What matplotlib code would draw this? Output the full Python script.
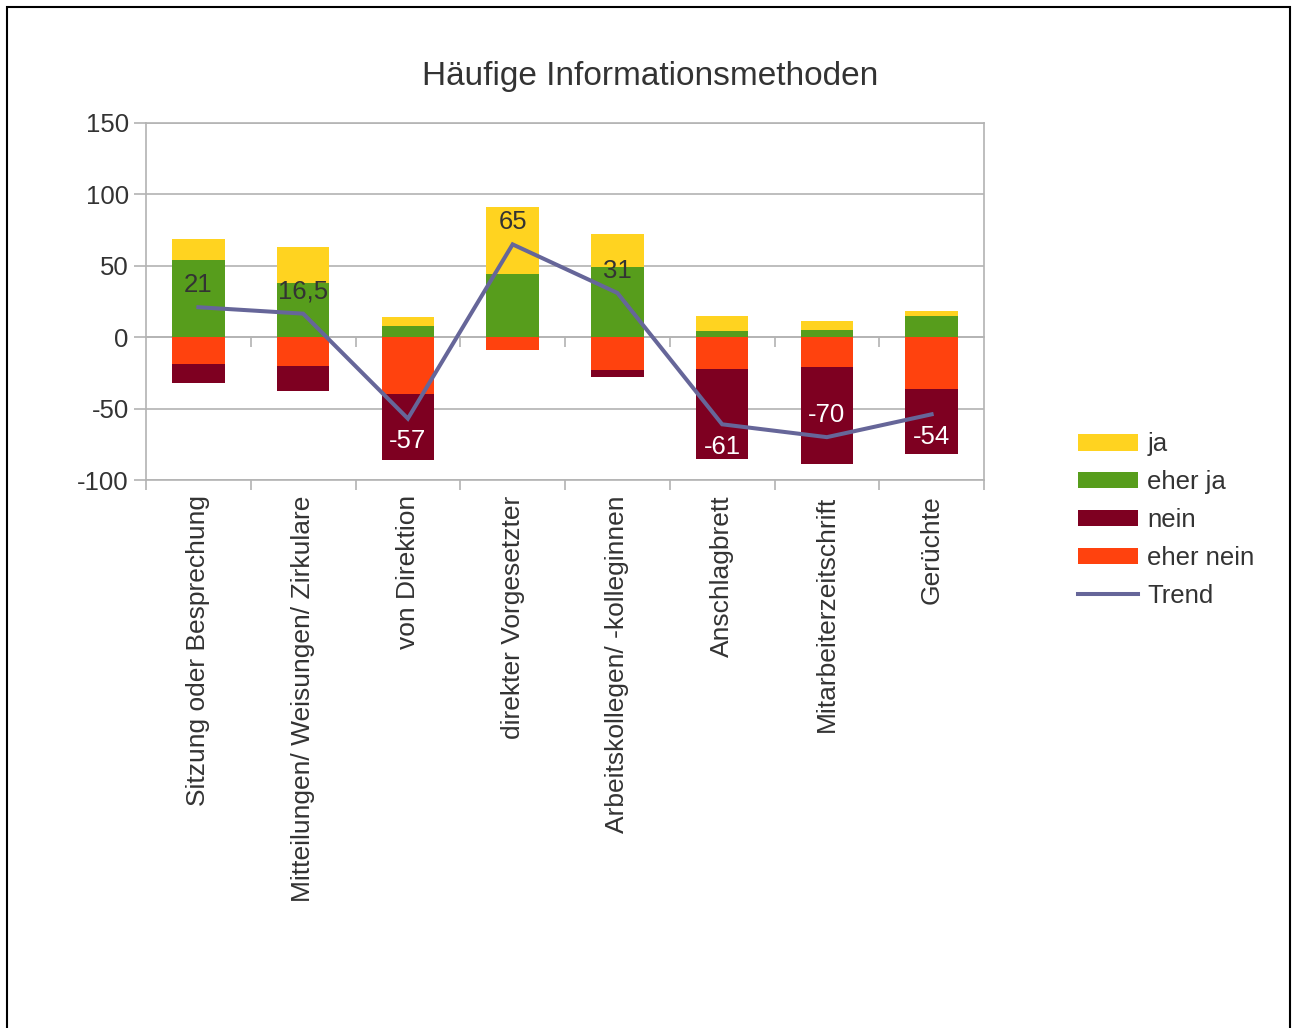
import numpy as np
import matplotlib
matplotlib.use('Agg')
import matplotlib.pyplot as plt
import matplotlib.transforms as mtrans
from matplotlib.patches import Rectangle

plt.rcParams['font.family'] = ['Liberation Sans', 'DejaVu Sans']
plt.rcParams['axes.unicode_minus'] = False

## DATA
#####################################################################
categories = ['Sitzung oder Besprechung',
              'Mitteilungen/ Weisungen/ Zirkulare',
              'von Direktion',
              'direkter Vorgesetzter',
              'Arbeitskollegen/ -kolleginnen',
              'Anschlagbrett',
              'Mitarbeiterzeitschrift',
              'Gerüchte']

ja = [15, 25, 6, 47, 23, 11, 6, 3.5]
eher_ja = [54, 38, 8, 44, 49, 4, 5, 14.5]
nein = [-13, -17.5, -46, 0, -5, -63, -68, -46]
eher_nein = [-19, -20, -40, -9, -23, -22, -21, -36]
trend = [21, 16.5, -57, 65, 31, -61, -70, -54]
trend_text = ['21', '16,5', '-57', '65', '31', '-61', '-70', '-54']
# label above (+1) or below (-1) the trend point
label_side = [1, 1, -1, 1, 1, -1, 1, -1]

## STYLE
#####################################################################
c_ja = '#ffd320'
c_eja = '#579d1c'
c_nein = '#7e0021'
c_enein = '#ff420e'
c_trend = '#666699'
c_text = '#333333'
c_grid = '#b3b3b3'
FS = 18.5

fig = plt.figure(figsize=(12.92,10.28),dpi=100)
ax = fig.add_axes([146/1292,1-480/1028,(984-146)/1292,(480-123)/1028])

x = np.arange(len(categories))
w = 0.5
ax.bar(x,eher_ja,w,color=c_eja,label='eher ja',zorder=2)
ax.bar(x,ja,w,bottom=eher_ja,color=c_ja,label='ja',zorder=2)
ax.bar(x,eher_nein,w,color=c_enein,label='eher nein',zorder=2)
ax.bar(x,nein,w,bottom=eher_nein,color=c_nein,label='nein',zorder=2)
ax.plot(x,trend,'-',color=c_trend,lw=2.9,label='Trend',zorder=3,
        solid_joinstyle='miter')

# data labels of the trend line
for i in range(len(x)):
    off = 16*label_side[i]
    col = 'white' if label_side[i] < 0 or trend_text[i] == '-70' else c_text
    ax.annotate(trend_text[i],(x[i],trend[i]),xytext=(0,off),
                textcoords='offset points',ha='center',va='center',
                fontsize=FS,color=col,zorder=4)

ax.set_xlim(-0.5,len(categories)-0.5)
ax.set_ylim(-100,150)
ax.set_yticks([-100,-50,0,50,100,150])
ax.yaxis.grid(True,color=c_grid,lw=1.2,zorder=0)
ax.set_axisbelow(True)
for s in ax.spines.values():
    s.set_color(c_grid)
    s.set_linewidth(1.2)

ax.set_xticks(x)
ax.set_xticklabels(categories,rotation=90,fontsize=19,color=c_text,va='top')
shift = mtrans.ScaledTranslation(5/100,0,fig.dpi_scale_trans)
for t in ax.get_xticklabels():
    t.set_transform(t.get_transform()+shift)
ax.set_xticks(np.arange(len(categories)+1)-0.5,minor=True)
ax.tick_params(axis='x',which='major',length=0,pad=11)
ax.tick_params(axis='x',which='minor',length=7.5,color=c_grid,width=1.2)
ax.tick_params(axis='y',length=8.5,color=c_grid,width=1.2,labelsize=FS,
               labelcolor=c_text,pad=4)

# ticks on the zero line
zero = 100/250
sec = ax.secondary_xaxis(zero)
sec.set_xticks(np.arange(1,len(categories))-0.5)
sec.set_xticklabels([])
sec.tick_params(length=7.5,color=c_grid,width=1.2,direction='out')
sec.spines['bottom'].set_color(c_grid)
sec.spines['bottom'].set_linewidth(1.2)

fig.text(650/1292,1-77/1028,'Häufige Informationsmethoden',fontsize=24,
         color=c_text,ha='center',va='center')

h,l = ax.get_legend_handles_labels()
order = ['ja','eher ja','nein','eher nein','Trend']
hh = [h[l.index(o)] for o in order]
leg = fig.legend(hh,order,loc='center left',bbox_to_anchor=(1065/1292,0.494),
                 frameon=False,fontsize=FS,handlelength=2.35,handleheight=0.6,
                 handletextpad=0.35,labelspacing=0.54,borderpad=0)
for t in leg.get_texts():
    t.set_color(c_text)

# outer frame
fig.patches.append(Rectangle((7/1292,-0.05),1283/1292,1.05-7/1028,
                             transform=fig.transFigure,fill=False,
                             edgecolor='black',lw=1.5))

fig.savefig('out.png',dpi=100)
